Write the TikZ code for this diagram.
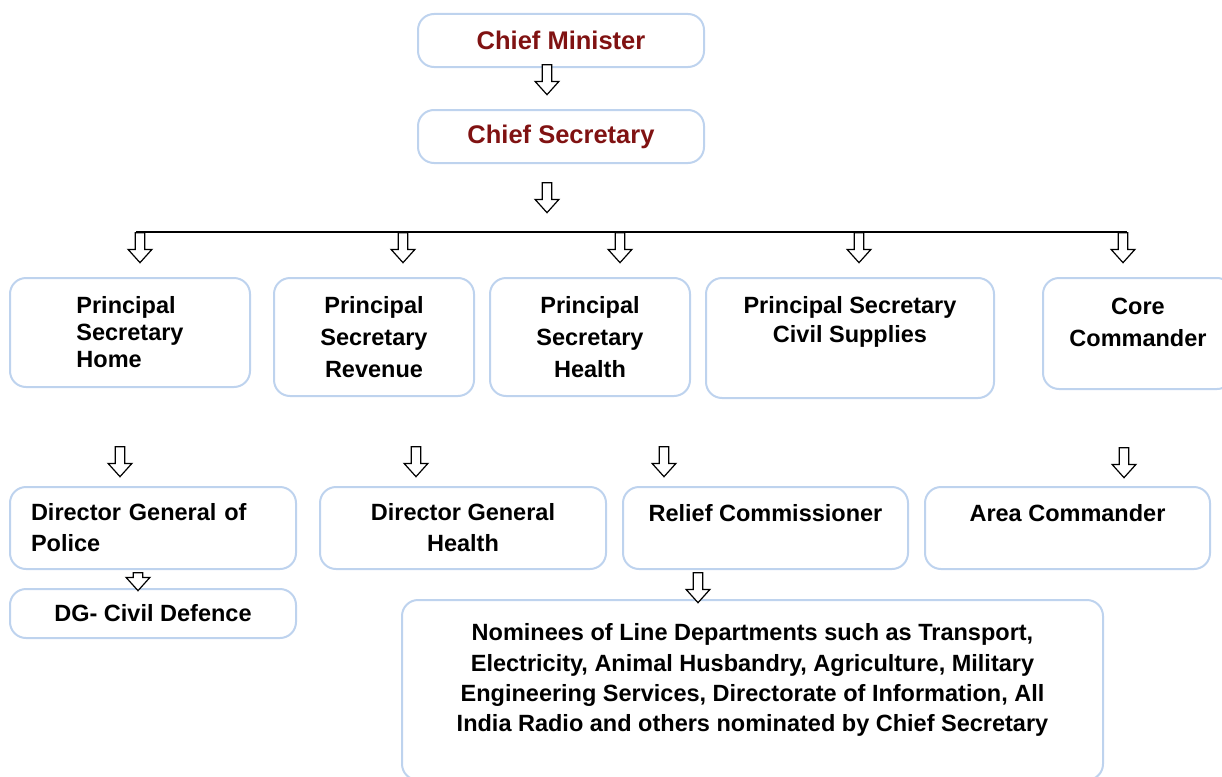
\documentclass[tikz,border=0pt]{standalone}
\usepackage{fontspec}
\setmainfont{Liberation Sans}
\usetikzlibrary{shapes.arrows}
\definecolor{boxblue}{RGB}{190,211,238}
\definecolor{cmred}{RGB}{128,18,18}
\begin{document}
\begin{tikzpicture}[x=1pt,y=-1pt,
  box/.style={draw=boxblue,line width=2pt,rounded corners=16pt,inner sep=0pt,align=center,
    font=\bfseries\fontsize{23.5}{31}\selectfont},
  darr/.style={draw,line width=1.2pt,single arrow,shape border rotate=270,fill=white,
    single arrow tip angle=84,minimum height=30pt,minimum width=19pt,inner sep=4.2pt}]
\useasboundingbox (0,0) rectangle (1222,776);
\clip (0,0) rectangle (1222,776);

% top
\node[box,minimum width=286pt,minimum height=53pt,text=cmred,font=\bfseries\fontsize{25.5}{30}\selectfont] (cm) at (561,40.5) {Chief Minister};
\node[box,minimum width=286pt,minimum height=53pt,text=cmred,font=\bfseries\fontsize{25.5}{30}\selectfont] (cs) at (561,136.5) {Chief Secretary};

% principal secretaries
\node[box,minimum width=240pt,minimum height=109pt,align=left,font=\bfseries\fontsize{23.5}{27}\selectfont] (home) at (130,332.5) {Principal\\Secretary\\Home};
\node[box,minimum width=200pt,minimum height=118pt,font=\bfseries\fontsize{23.5}{32}\selectfont] (rev) at (374,337) {Principal\\Secretary\\Revenue};
\node[box,minimum width=200pt,minimum height=118pt,font=\bfseries\fontsize{23.5}{32}\selectfont] (hlth) at (590,337) {Principal\\Secretary\\Health};
\node[box,minimum width=288pt,minimum height=120pt,font=\bfseries\fontsize{23.5}{29}\selectfont] (civ) at (850,338) {Principal Secretary\\Civil Supplies\\[8pt]~};
\node[box,minimum width=190pt,minimum height=111pt,font=\bfseries\fontsize{23.5}{32}\selectfont] (core) at (1138,333.5) {Core\\Commander\\[-10pt]~};

% directors
\node[box,text width=244pt,inner xsep=21pt,minimum height=82pt,align=left] (dgp) at (153,528) {Director General of\\Police};
\node[box,minimum width=286pt,minimum height=82pt] (dgh) at (463,528) {Director General\\Health};
\node[box,minimum width=285pt,minimum height=82pt] (relief) at (765.5,528) {Relief Commissioner\\~};
\node[box,minimum width=285pt,minimum height=82pt] (area) at (1067.5,528) {Area Commander\\~};
\node[box,minimum width=286pt,minimum height=49pt] (dgcd) at (153,613.5) {DG- Civil Defence};
\node[box,minimum width=701pt,minimum height=180pt,font=\bfseries\fontsize{23.5}{30.3}\selectfont] (nom) at (752.5,690) {Nominees of Line Departments such as Transport,\\Electricity, Animal Husbandry, Agriculture, Military\\Engineering Services, Directorate of Information, All\\India Radio and others nominated by Chief Secretary\\[-6pt]~};

% arrows
\node[darr] (a1) at (547,77) {};
\node[darr] (a2) at (547,195) {};
\node[darr] (p1) at (140,245) {};
\node[darr] (p2) at (403,245) {};
\node[darr] (p3) at (620,245) {};
\node[darr] (p4) at (859,245) {};
\node[darr] (p5) at (1123,245) {};
\node[darr] (b1) at (120,459) {};
\node[darr] (b2) at (416,459) {};
\node[darr] (b3) at (664,459) {};
\node[darr] (b4) at (1124,460) {};
\node[darr,minimum height=18pt] (c1) at (138,579) {};
\node[darr] (c2) at (698,585) {};

\path[draw,line width=1.5pt] ([xshift=-4.2pt]p1.tail) -- ([xshift=4.2pt]p5.tail);
\end{tikzpicture}
\end{document}
